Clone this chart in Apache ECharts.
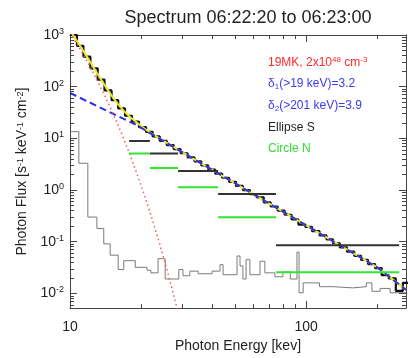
<!DOCTYPE html>
<html lang="en">
<head>
<meta charset="UTF-8">
<title>Spectrum 06:22:20 to 06:23:00</title>
<script src="https://cdn.jsdelivr.net/npm/echarts@6/dist/echarts.min.js"></script>
<style>
  html, body { margin: 0; padding: 0; background: #fff; }
  #main { width: 408px; height: 358px; }
</style>
</head>
<body>
<div id="main"></div>
<script>
// observed count spectrum (step histogram: left bin edges + last right edge)
const dataEdges = [10, 10.7, 11.4, 12.2, 13.1, 14, 15, 16, 17.1, 18.3, 19.6, 21, 22.4, 24, 25.7, 27.5, 29.4, 31.5, 33.7, 36,
  38.5, 41.2, 44.1, 47.2, 50.5, 54, 57.8, 61.8, 66.2, 70.8, 75.8, 81.1, 86.8, 92.8, 99.3, 106, 114, 122, 130, 139,
  149, 160, 171, 183, 196, 209, 224, 240, 257, 275];
const dataFlux = [1000, 617, 381, 227, 137, 84.7, 54.9, 37.9, 27.4, 21.1, 16.5, 13.3, 10.9, 8.96, 7.43, 6.19, 5.15, 4.28, 3.58, 2.99,
  2.49, 2.07, 1.73, 1.44, 1.20, 1.00, 0.832, 0.72, 0.577, 0.481, 0.400, 0.333, 0.27, 0.215, 0.1936, 0.1604, 0.1327, 0.1111, 0.0934, 0.0777,
  0.0642, 0.0533, 0.0445, 0.037, 0.0309, 0.0225, 0.0195, 0.0112, 0.016];

// background (grey step histogram)
const bgEdges = [10, 10.9, 11.9, 13.0, 13.9, 14.8, 16.0, 16.9, 18.9, 21.2, 22.0, 23.6, 25.3, 28.9, 30.1, 32.2, 34.9, 40.0, 43.2, 44.5,
  51.0, 52.5, 54.0, 55.7, 57.8, 63.8, 66.9, 73.8, 79.8, 85.7, 91.5, 93.4, 97.2, 114, 130, 158, 180, 190, 206, 227, 265];
const bgFlux = [13.5, 3.3, 0.30, 0.18, 0.091, 0.055, 0.029, 0.043, 0.032, 0.028, 0.025, 0.047, 0.019, 0.029, 0.022, 0.027, 0.024, 0.027, 0.036, 0.023,
  0.053, 0.034, 0.019, 0.045, 0.023, 0.042, 0.025, 0.021, 0.026, 0.019, 0.063, 0.0103, 0.016, 0.0135, 0.0128, 0.0135, 0.016, 0.011, 0.0125, 0.0103];

// total fit (yellow)
const fitEnergy = [10, 11, 12, 13, 14, 15, 16, 17, 18, 20, 22, 25, 30, 40, 60, 100, 150, 201, 265];
const fitFlux = [1230, 631, 335, 185, 108, 67.3, 45.4, 33, 25.6, 17.3, 12.7, 8.81, 5.35, 2.46, 0.822, 0.2075, 0.0694, 0.0316, 0.0117];

// broken power law (blue dashed)
const plEnergy = [10, 19, 201, 265];
const plFlux = [75.6, 18.4, 0.0316, 0.0117];

// thermal component (red dotted)
const thEnergy = [10, 11, 12, 13, 14, 15, 16, 17, 18, 20, 22, 24, 26, 28, 29];
const thFlux = [1111, 548, 273, 137, 68.9, 35, 17.8, 9.09, 4.67, 1.235, 0.332, 0.0896, 0.0244, 0.00668, 0.0035];

// imaging spectroscopy bands
const bandEdges = [17.8, 21.8, 28.7, 42.4, 74.6, 248];
const ellipseS = [8.87, 5.07, 2.34, 0.835, 0.0857];
const circleN = [5.07, 2.66, 1.13, 0.298, 0.0257];

// ticks
const xMajor = [10, 100];
const xMinor = [20, 30, 40, 50, 60, 70, 80, 90, 200];
const yMajor = [0.01, 0.1, 1, 10, 100, 1000];
const yMinor = [];
[0.001, 0.01, 0.1, 1, 10, 100].forEach(d => [2, 3, 4, 5, 6, 7, 8, 9].forEach(m => yMinor.push(m * d)));

const X_MIN = 10, X_MAX = 265, Y_MIN = 0.0052, Y_MAX = 1000;
const FONT = '"Liberation Sans", Arial, sans-serif';
const AXIS = '#444';

function stepData(edges, values) {
  const out = values.map((v, i) => [edges[i], v]);
  out.push([edges[edges.length - 1], values[values.length - 1]]);
  return out;
}
function pairs(xs, ys) { return xs.map((x, i) => [x, ys[i]]); }
function bars(edges, values) {
  const out = [];
  values.forEach((v, i) => { out.push([edges[i], v], [edges[i + 1], v], ['-', '-']); });
  return out;
}

function xAx(pos, major, labels) {
  return {
    type: 'log', logBase: 10, min: X_MIN, max: X_MAX, position: pos,
    axisLine: { show: major, onZero: false, lineStyle: { color: AXIS, width: 1 } },
    axisTick: { show: true, inside: true, length: major ? 7 : 4, customValues: major ? xMajor : xMinor, lineStyle: { color: AXIS } },
    axisLabel: labels ? {
      show: true, customValues: xMajor, margin: 12, fontSize: 14, color: '#222', fontFamily: FONT,
      formatter: v => String(Math.round(v))
    } : { show: false },
    splitLine: { show: false }
  };
}
function yAx(pos, major, labels) {
  return {
    type: 'log', logBase: 10, min: Y_MIN, max: Y_MAX, position: pos,
    axisLine: { show: major, onZero: false, lineStyle: { color: AXIS, width: 1 } },
    axisTick: { show: true, inside: true, length: major ? 7 : 4, customValues: major ? yMajor : yMinor, lineStyle: { color: AXIS } },
    axisLabel: labels ? {
      show: true, customValues: yMajor, margin: 6, color: '#222',
      formatter: v => '{b|10}{s|' + Math.round(Math.log10(v)) + '}',
      rich: {
        b: { fontSize: 14, lineHeight: 16, fontFamily: FONT, color: '#222' },
        s: { fontSize: 9, lineHeight: 9, verticalAlign: 'top', fontFamily: FONT, color: '#222' }
      }
    } : { show: false },
    splitLine: { show: false }
  };
}

function note(text, top, color) {
  const base = { color: color, fontFamily: FONT, fontWeight: 'normal' };
  return {
    text: text, left: 268, top: top, padding: 0,
    textStyle: {
      fontWeight: 'normal', fontSize: 12, color: color, fontFamily: FONT,
      rich: {
        a: Object.assign({ fontSize: 12, lineHeight: 14 }, base),
        p: Object.assign({ fontSize: 8, lineHeight: 8, verticalAlign: 'top' }, base),
        d: Object.assign({ fontSize: 8, lineHeight: 8, verticalAlign: 'bottom' }, base)
      }
    }
  };
}

const chart = echarts.init(document.getElementById('main'), null, { renderer: 'canvas' });

const bottomX = xAx('bottom', true, true);
bottomX.name = 'Photon Energy [kev]';
bottomX.nameLocation = 'middle';
bottomX.nameGap = 27;
bottomX.nameTextStyle = { fontSize: 14, color: '#222', fontFamily: FONT };

const leftY = yAx('left', true, true);
leftY.name = 'Photon Flux [s{s|-1} keV{s|-1} cm{s|-2}]';
leftY.nameLocation = 'middle';
leftY.nameGap = 40;
leftY.nameTextStyle = {
  fontSize: 14, color: '#222', fontFamily: FONT,
  rich: { s: { fontSize: 9, lineHeight: 9, verticalAlign: 'top', color: '#222', fontFamily: FONT } }
};

chart.setOption({
  animation: false,
  backgroundColor: '#fff',
  title: [
    { text: 'Spectrum 06:22:20 to 06:23:00', left: 243, top: 4, textAlign: 'center',
      textStyle: { fontSize: 18, fontWeight: 'normal', color: '#222', fontFamily: FONT } },
    note('{a|19MK, 2x10}{p|48}{a| cm}{p|-3}', 56, '#ff2a2a'),
    note('{a|δ}{d|1}{a|(>19 keV)=3.2}', 77, '#3b3bf0'),
    note('{a|δ}{d|2}{a|(>201 keV)=3.9}', 99, '#3b3bf0'),
    note('{a|Ellipse S}', 121, '#222'),
    note('{a|Circle N}', 142, '#33dd33')
  ],
  grid: { left: 70, top: 35, right: 2, bottom: 40, containLabel: false },
  xAxis: [bottomX, xAx('top', true, false), xAx('bottom', false, false), xAx('top', false, false)],
  yAxis: [leftY, yAx('right', true, false), yAx('left', false, false), yAx('right', false, false)],
  series: [
    { name: 'Background', type: 'line', step: 'end', data: stepData(bgEdges, bgFlux), symbol: 'none',
      lineStyle: { color: '#7a7a7a', width: 1 }, z: 2 },
    { name: 'Data', type: 'line', step: 'end', data: stepData(dataEdges, dataFlux), symbol: 'none',
      lineStyle: { color: '#111', width: 2.2 }, z: 3 },
    { name: 'Fit', type: 'line', data: pairs(fitEnergy, fitFlux), symbol: 'none',
      lineStyle: { color: '#e8e830', width: 2 }, z: 4 },
    { name: 'Power law', type: 'line', data: pairs(plEnergy, plFlux), symbol: 'none',
      lineStyle: { color: '#2f2fe0', width: 2, type: [7, 4] }, z: 5 },
    { name: 'Thermal', type: 'line', data: pairs(thEnergy, thFlux), symbol: 'none',
      lineStyle: { color: '#f05a5a', width: 1.5, type: [1.5, 3] }, z: 5 },
    { name: 'Ellipse S', type: 'line', data: bars(bandEdges, ellipseS), symbol: 'none', connectNulls: false,
      lineStyle: { color: '#333', width: 2 }, z: 6 },
    { name: 'Circle N', type: 'line', data: bars(bandEdges, circleN), symbol: 'none', connectNulls: false,
      lineStyle: { color: '#33e633', width: 2 }, z: 6 }
  ]
});
</script>
</body>
</html>
